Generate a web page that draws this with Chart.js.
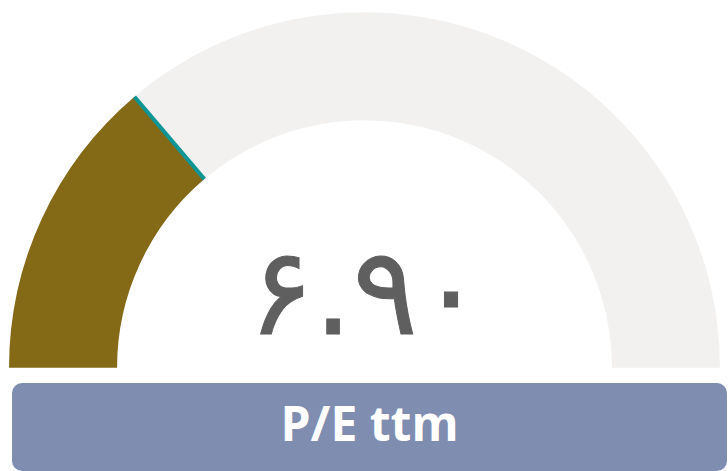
<!DOCTYPE html>
<html>
<head>
<meta charset="utf-8">
<script src="https://cdn.jsdelivr.net/npm/chart.js@4"></script>
<style>
  body { margin: 0; background: #fff; width: 728px; height: 471px; overflow: hidden; position: relative; }
  #wrap { position: absolute; left: 0; top: 0; width: 728px; height: 380px; }
  #value { position: absolute; left: 0; width: 732px; top: 222px; text-align: center;
    font-family: "DejaVu Sans", sans-serif; font-size: 122px; color: #5f5f5f; line-height: 140px;
    -webkit-text-stroke: 1px #5f5f5f; }
  #title { position: absolute; left: 12px; top: 383px; width: 715px; height: 88px; background: #7f8eb0;
    border-radius: 10px; color: #fff; font-family: "Open Sans", Roboto, sans-serif; font-weight: bold;
    font-size: 48px; text-align: center; line-height: 80px; }
</style>
</head>
<body>
<div id="wrap"><canvas id="gauge"></canvas></div>
<div id="value"></div>
<div id="title"></div>
<script>
const categories = ["P/E ttm"];
const peValue = [6.90];
const gaugeMax = [25];

const fillColor = "#846916";
const trackColor = "#f2f1f0";
const markerColor = "#0e9696";

function toPersianDigits(s) {
  return s.replace(/[0-9]/g, d => "۰۱۲۳۴۵۶۷۸۹"[d]);
}

document.getElementById("title").textContent = categories[0];
document.getElementById("value").textContent = toPersianDigits(peValue[0].toFixed(2));

// thin line at the end of the value arc
const markerLine = {
  id: "markerLine",
  afterDatasetsDraw(chart) {
    const arc = chart.getDatasetMeta(0).data[0];
    const a = arc.endAngle;
    const ctx = chart.ctx;
    ctx.save();
    ctx.strokeStyle = markerColor;
    ctx.lineWidth = 4;
    ctx.beginPath();
    ctx.moveTo(arc.x + Math.cos(a) * arc.innerRadius, arc.y + Math.sin(a) * arc.innerRadius);
    ctx.lineTo(arc.x + Math.cos(a) * arc.outerRadius, arc.y + Math.sin(a) * arc.outerRadius);
    ctx.stroke();
    ctx.restore();
  }
};

new Chart(document.getElementById("gauge"), {
  type: "doughnut",
  data: {
    labels: [categories[0], ""],
    datasets: [{
      data: [peValue[0], gaugeMax[0] - peValue[0]],
      backgroundColor: [fillColor, trackColor],
      borderWidth: 0,
      hoverOffset: 0
    }]
  },
  options: {
    responsive: true,
    maintainAspectRatio: false,
    animation: false,
    rotation: -90,
    circumference: 180,
    cutout: "69.6%",
    layout: { padding: { top: 12, bottom: 12, left: 9, right: 8 } },
    plugins: { legend: { display: false }, tooltip: { enabled: false } },
    events: []
  },
  plugins: [markerLine]
});
</script>
</body>
</html>
